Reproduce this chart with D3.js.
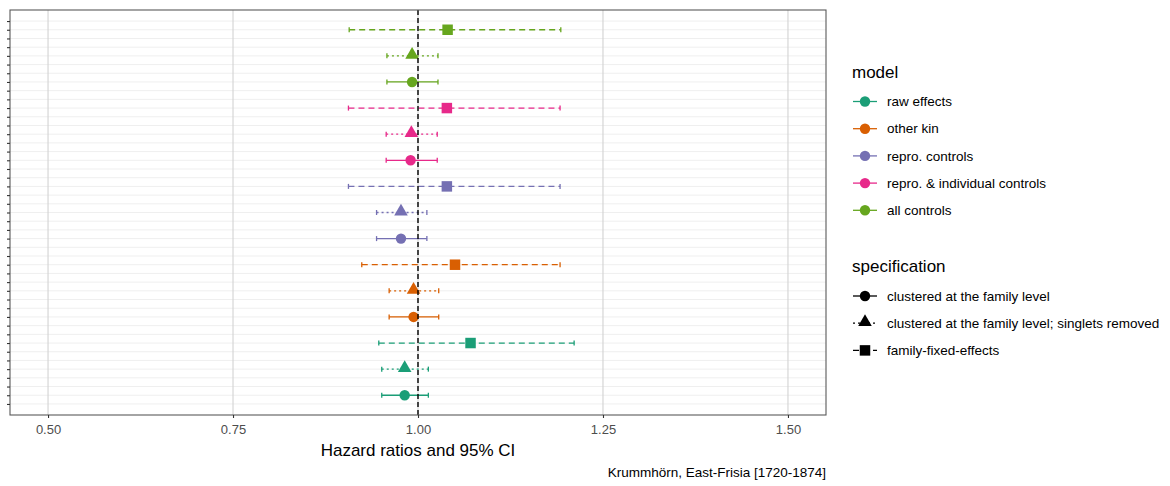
<!DOCTYPE html>
<html>
<head>
<meta charset="utf-8">
<script src="https://cdn.jsdelivr.net/npm/d3@7"></script>
<style>
  body { margin: 0; background: #fff; }
  text { font-family: "Liberation Sans", Arial, sans-serif; }
</style>
</head>
<body>
<svg id="chart" width="1170" height="486"></svg>
<script>
const width = 1170;
const height = 486;

// data
const models = ["raw effects", "other kin", "repro. controls", "repro. & individual controls", "all controls"];
const specs = ["clustered at the family level", "clustered at the family level; singlets removed", "family-fixed-effects"];
const modelColors = ["#1B9E77", "#D95F02", "#7570B3", "#E7298A", "#66A61E"];

// rows = model, cols = spec
const hr = [
  [0.982, 0.982, 1.071],
  [0.994, 0.994, 1.050],
  [0.977, 0.977, 1.039],
  [0.990, 0.991, 1.039],
  [0.992, 0.992, 1.040]
];
const lo = [
  [0.951, 0.951, 0.947],
  [0.961, 0.961, 0.924],
  [0.944, 0.944, 0.906],
  [0.957, 0.957, 0.906],
  [0.958, 0.958, 0.907]
];
const hi = [
  [1.014, 1.014, 1.211],
  [1.028, 1.028, 1.192],
  [1.012, 1.012, 1.192],
  [1.026, 1.026, 1.192],
  [1.027, 1.027, 1.193]
];
const xTicks = [0.5, 0.75, 1.0, 1.25, 1.5];
const nSlots = 45;

const panel = {l: 10, r: 826, t: 10, b: 415};

const svg = d3.select("#chart");

const x = d3.scaleLinear().domain([0.4486, 1.5514]).range([panel.l, panel.r]);
const slots = d3.range(nSlots);
const y = d3.scalePoint().domain(slots).range([panel.t, panel.b]).padding(1.27);

const shapes = [d3.symbolCircle, d3.symbolTriangle, d3.symbolSquare];
const shapeSize = [85, 80, 110];
const dashes = [null, "2,3", "6,4"];

// flat list of rows: top = all controls, square first
const rows = [];
models.forEach((m, i) => {
  specs.forEach((s, j) => {
    const order = (4 - i) * 3 + (2 - j);
    rows.push({m: i, s: j, slot: 1 + order * 3, hr: hr[i][j], lo: lo[i][j], hi: hi[i][j]});
  });
});

// panel bg + grid
svg.append("rect").attr("x", panel.l).attr("y", panel.t)
  .attr("width", panel.r - panel.l).attr("height", panel.b - panel.t).attr("fill", "#fff");

svg.append("g").selectAll("line").data(slots).join("line")
  .attr("x1", panel.l).attr("x2", panel.r)
  .attr("y1", d => y(d)).attr("y2", d => y(d))
  .attr("stroke", "#efefef").attr("stroke-width", 1);

svg.append("g").selectAll("line").data(xTicks).join("line")
  .attr("x1", d => x(d)).attr("x2", d => x(d))
  .attr("y1", panel.t).attr("y2", panel.b)
  .attr("stroke", "#d2d2d2").attr("stroke-width", 1.1);

// error bars
const eb = svg.append("g").selectAll("g").data(rows).join("g")
  .attr("stroke", d => modelColors[d.m]).attr("stroke-width", 1.3);
eb.append("line")
  .attr("x1", d => x(d.lo)).attr("x2", d => x(d.hi))
  .attr("y1", d => y(d.slot)).attr("y2", d => y(d.slot))
  .attr("stroke-dasharray", d => dashes[d.s]);
eb.append("line")
  .attr("x1", d => x(d.lo)).attr("x2", d => x(d.lo))
  .attr("y1", d => y(d.slot) - 2.5).attr("y2", d => y(d.slot) + 2.5);
eb.append("line")
  .attr("x1", d => x(d.hi)).attr("x2", d => x(d.hi))
  .attr("y1", d => y(d.slot) - 2.5).attr("y2", d => y(d.slot) + 2.5);

// points
svg.append("g").selectAll("path").data(rows).join("path")
  .attr("transform", d => `translate(${x(d.hr)},${y(d.slot) + (d.s === 1 ? -1 : 0)})`)
  .attr("d", d => d3.symbol(shapes[d.s], shapeSize[d.s])())
  .attr("fill", d => modelColors[d.m]);

// reference line, on top of the points
svg.append("line")
  .attr("x1", x(1)).attr("x2", x(1)).attr("y1", panel.t).attr("y2", panel.b)
  .attr("stroke", "#000").attr("stroke-width", 1.4).attr("stroke-dasharray", "5,3");

// panel border
svg.append("rect").attr("x", panel.l).attr("y", panel.t)
  .attr("width", panel.r - panel.l).attr("height", panel.b - panel.t)
  .attr("fill", "none").attr("stroke", "#595959").attr("stroke-width", 1.1);

// y axis ticks (no labels)
const yAxis = svg.append("g").attr("transform", `translate(${panel.l},0)`)
  .call(d3.axisLeft(y).tickSize(3).tickFormat(""));
yAxis.select(".domain").remove();
yAxis.selectAll(".tick line").attr("stroke", "#333").attr("stroke-width", 1.1);

// x axis
const xAxis = svg.append("g").attr("transform", `translate(0,${panel.b})`)
  .call(d3.axisBottom(x).tickValues(xTicks).tickSize(3).tickPadding(7).tickFormat(d3.format(".2f")));
xAxis.select(".domain").remove();
xAxis.selectAll(".tick line").attr("stroke", "#333").attr("stroke-width", 1.1);
xAxis.selectAll(".tick text").attr("fill", "#4d4d4d").attr("font-size", 13)
  .attr("font-family", "Liberation Sans, Arial, sans-serif");

svg.append("text").attr("x", (panel.l + panel.r) / 2).attr("y", 456)
  .attr("text-anchor", "middle").attr("font-size", 17).attr("fill", "#000")
  .text("Hazard ratios and 95% CI");

svg.append("text").attr("x", panel.r).attr("y", 477)
  .attr("text-anchor", "end").attr("font-size", 13.5).attr("fill", "#000")
  .text("Krummhörn, East-Frisia [1720-1874]");

// legends
const lgX = 852;
const keyX1 = 853, keyX2 = 877, keyC = 865, labX = 887;

const lgModel = svg.append("g");
lgModel.append("text").attr("x", lgX).attr("y", 78).attr("font-size", 17).text("model");
const mItems = lgModel.selectAll("g").data(models).join("g")
  .attr("transform", (d, i) => `translate(0,${101.5 + i * 27.2})`);
mItems.append("line").attr("x1", keyX1).attr("x2", keyX2)
  .attr("stroke", (d, i) => modelColors[i]).attr("stroke-width", 1.3);
mItems.append("path").attr("transform", `translate(${keyC},0)`)
  .attr("d", d3.symbol(d3.symbolCircle, 85)()).attr("fill", (d, i) => modelColors[i]);
mItems.append("text").attr("x", labX).attr("y", 4.7).attr("font-size", 13.5).text(d => d);

const lgSpec = svg.append("g");
lgSpec.append("text").attr("x", lgX).attr("y", 272).attr("font-size", 17).text("specification");
const sItems = lgSpec.selectAll("g").data(specs).join("g")
  .attr("transform", (d, i) => `translate(0,${296 + i * 27.2})`);
sItems.append("line").attr("x1", keyX1).attr("x2", keyX2)
  .attr("stroke", "#000").attr("stroke-width", 1.3)
  .attr("stroke-dasharray", (d, i) => dashes[i]);
sItems.append("path").attr("transform", (d, i) => `translate(${keyC},${i === 1 ? -1 : 0})`)
  .attr("d", (d, i) => d3.symbol(shapes[i], shapeSize[i])()).attr("fill", "#000");
sItems.append("text").attr("x", labX).attr("y", 4.7).attr("font-size", 13.5).text(d => d);
</script>
</body>
</html>
